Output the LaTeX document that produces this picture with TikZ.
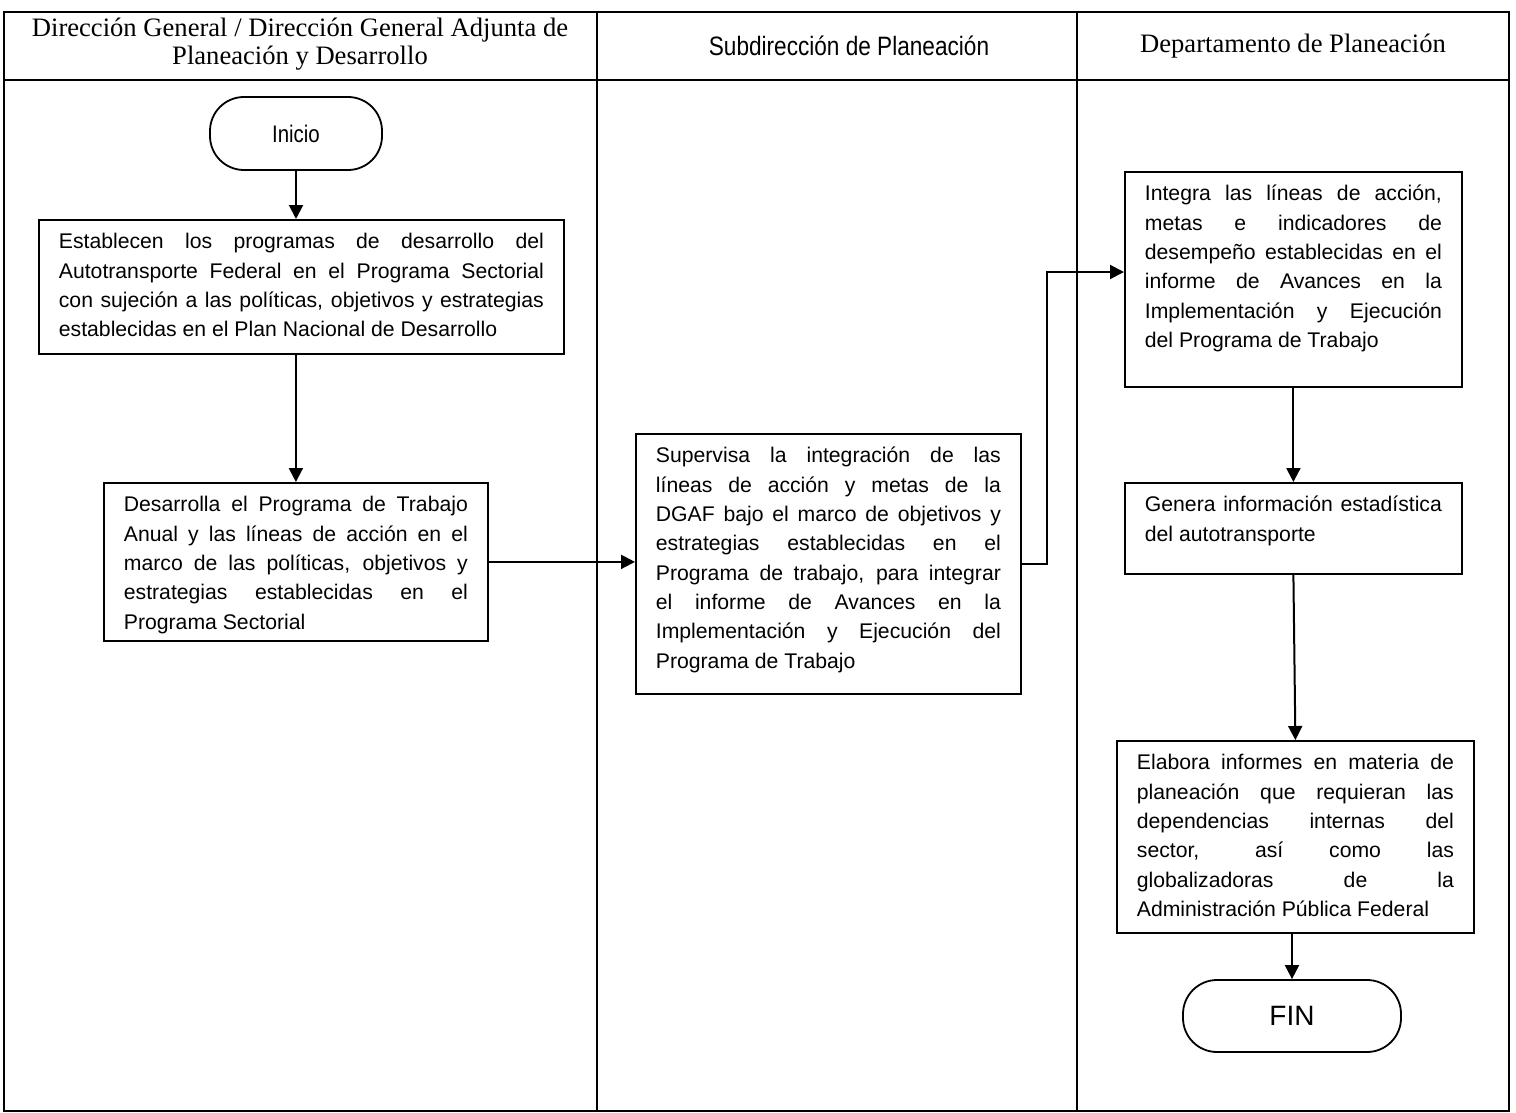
\documentclass[tikz,border=0pt]{standalone}
\usepackage{fontspec}
\setmainfont{Liberation Sans}
\newfontfamily\timesfont{Liberation Serif}
\newfontfamily\narrowfont[FakeStretch=0.85]{Liberation Sans}
\usetikzlibrary{arrows.meta}
\hyphenpenalty=10000
\exhyphenpenalty=10000
\tolerance=10000
\hbadness=10000

\tikzset{
  flow/.style={-{Triangle[width=7pt,length=7pt]}, line width=1pt},
  lane/.style={line width=1pt},
  proc/.style={draw, line width=0.9pt, anchor=north west, align=justify,
    inner xsep=10pt, inner ysep=4.5pt, text height=10pt,
    font=\fontsize{10.6pt}{14.65pt}\selectfont},
  term/.style={draw, line width=0.9pt, rounded corners=17pt, inner sep=0pt},
  head/.style={align=center, font=\timesfont\fontsize{13.3pt}{14pt}\selectfont}
}

\begin{document}
\begin{tikzpicture}[x=0.5pt, y=-0.5pt]
    \useasboundingbox (0,0) rectangle (1516,1113);
    \draw[lane] (4,12) rectangle (1509,1111);
    \draw[lane] (4,80) -- (1509,80);
    \draw[lane] (597,12) -- (597,1111);
    \draw[lane] (1077,12) -- (1077,1111);

    \node[head] (dirgral) at (300,44) {Dirección General / Dirección General Adjunta de\\Planeación y Desarrollo};
    \node[head, font=\narrowfont\fontsize{13.3pt}{14pt}\selectfont] (subdir) at (849,46) {Subdirección de Planeación};
    \node[head] (depto) at (1293,46) {Departamento de Planeación};

    \node[term, minimum width=86pt, minimum height=36.5pt, font=\narrowfont\fontsize{12pt}{13pt}\selectfont] (inicio) at (296,133.5) {Inicio};

    \node[proc, text width=242.5pt, text depth=48pt] (establecen) at (38,219)
        {Establecen los programas de desarrollo del\linebreak
         Autotransporte Federal en el Programa Sectorial\linebreak
         con sujeción a las políticas, objetivos y estrategias\linebreak
         establecidas en el Plan Nacional de Desarrollo};

    \node[proc, text width=172pt, text depth=60pt] (desarrolla) at (103,482)
        {Desarrolla el Programa de Trabajo\linebreak
         Anual y las líneas de acción en el\linebreak
         marco de las políticas, objetivos y\linebreak
         estrategias establecidas en el\linebreak
         Programa Sectorial};

    \node[proc, text width=172.5pt, text depth=111pt] (supervisa) at (635,433)
        {Supervisa la integración de las\linebreak
         líneas de acción y metas de la\linebreak
         DGAF bajo el marco de objetivos y\linebreak
         estrategias establecidas en el\linebreak
         Programa de trabajo, para integrar\linebreak
         el informe de Avances en la\linebreak
         Implementación y Ejecución del\linebreak
         Programa de Trabajo};

    \node[proc, text width=148.5pt, text depth=88.5pt] (integra) at (1124,171)
        {Integra las líneas de acción,\linebreak
         metas e indicadores de\linebreak
         desempeño establecidas en el\linebreak
         informe de Avances en la\linebreak
         Implementación y Ejecución\linebreak
         del Programa de Trabajo};

    \node[proc, text width=148.5pt, text depth=26.5pt] (genera) at (1124,482)
        {Genera información estadística\linebreak
         del autotransporte};

    \node[proc, text width=158.5pt, text depth=77pt] (elabora) at (1116,740)
        {Elabora informes en materia de\linebreak
         planeación que requieran las\linebreak
         dependencias internas del\linebreak
         sector, así como las\linebreak
         globalizadoras de la\linebreak
         Administración Pública Federal};

    \node[term, minimum width=109pt, minimum height=36pt, font=\fontsize{14pt}{16pt}\selectfont] (fin) at (1292,1016) {FIN};

    \coordinate (turn) at (1047,272);

    \draw[flow] (inicio.south) -- (inicio.south |- establecen.north);
    \draw[flow] (establecen.south -| desarrolla.north) -- (desarrolla.north);
    \draw[flow] (desarrolla.east) -- (desarrolla.east -| supervisa.west);
    \draw[flow] (supervisa.east) -| (turn) -- (turn -| integra.west);
    \draw[flow] (integra.south) -- (genera.north);
    \draw[flow] (genera.south) -- (elabora.north);
    \draw[flow] (elabora.south -| fin.north) -- (fin.north);
\end{tikzpicture}
\end{document}
